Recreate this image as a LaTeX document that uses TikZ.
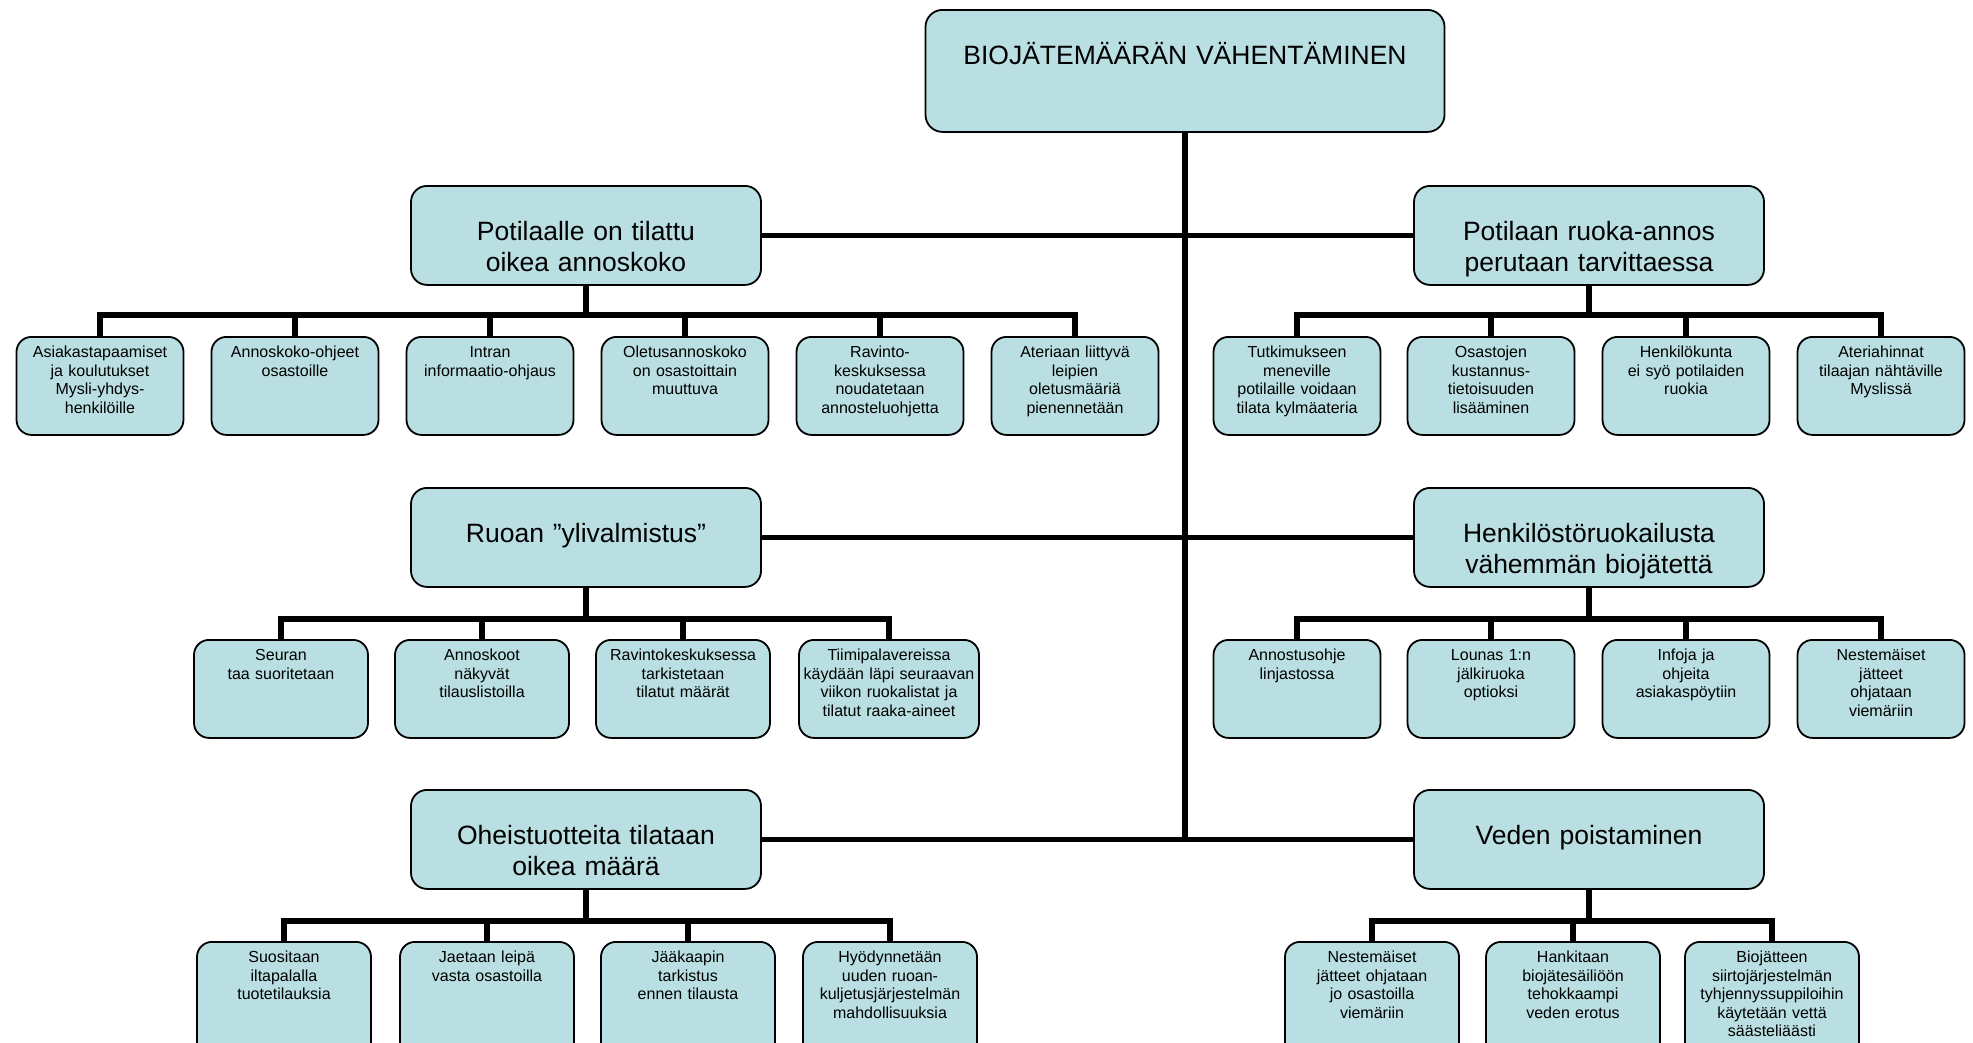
\documentclass[tikz,border=0pt]{standalone}
\usepackage{fontspec}
\setmainfont{Liberation Sans}
\usetikzlibrary{positioning}
\definecolor{boxfill}{RGB}{185,223,226}

\begin{document}
\begin{tikzpicture}[x=1pt, y=-1pt,
    goalbox/.style={rectangle, rounded corners=17pt, draw, line width=1.8pt, fill=boxfill, anchor=north, align=center, text width=499pt, inner xsep=10pt, inner ysep=10pt, text height=45pt, text depth=57pt, font=\fontsize{26.5}{30.5}\selectfont},
    mainbox/.style={rectangle, rounded corners=16pt, draw, line width=1.8pt, fill=boxfill, anchor=north, align=center, text width=330pt, inner xsep=10pt, inner ysep=10pt, text height=45pt, text depth=34pt, font=\fontsize{26.5}{30.5}\selectfont},
    kid/.style={rectangle, rounded corners=15pt, draw, line width=1.8pt, fill=boxfill, anchor=north, align=center, text width=#1, inner xsep=4pt, inner ysep=7pt, text height=14pt, text depth=70pt, font=\fontsize{16}{18.4}\selectfont},
    kid/.default=159pt,
    lastrow/.style={text depth=88pt},
    conn/.style={line width=5.8pt}
]
\useasboundingbox (0,0) rectangle (1973,1042);
\clip (0,0) rectangle (1973,1042);

\node[goalbox] (goal) at (1185,9) {BIOJÄTEMÄÄRÄN VÄHENTÄMINEN};

% main branches
\node[mainbox] (order) at (586,185) {Potilaalle on tilattu\\oikea annoskoko};
\node[mainbox] (cancel) at (1589,185) {Potilaan ruoka-annos\\perutaan tarvittaessa};
\node[mainbox] (over) at (586,487) {Ruoan ”ylivalmistus”};
\node[mainbox] (staff) at (1589,487) {Henkilöstöruokailusta\\vähemmän biojätettä};
\node[mainbox] (extra) at (586,789) {Oheistuotteita tilataan\\oikea määrä};
\node[mainbox] (water) at (1589,789) {Veden poistaminen};

% first row
\node[kid] (o1) at (100,336) {Asiakastapaamiset\\ja koulutukset\\Mysli-yhdys-\\henkilöille};
\node[kid] (o2) at (295,336) {Annoskoko-ohjeet\\osastoille};
\node[kid] (o3) at (490,336) {Intran\\informaatio-ohjaus};
\node[kid] (o4) at (685,336) {Oletusannoskoko\\on osastoittain\\muuttuva};
\node[kid] (o5) at (880,336) {Ravinto-\\keskuksessa\\noudatetaan\\annosteluohjetta};
\node[kid] (o6) at (1075,336) {Ateriaan liittyvä\\leipien\\oletusmääriä\\pienennetään};
\node[kid] (c1) at (1297,336) {Tutkimukseen\\meneville\\potilaille voidaan\\tilata kylmäateria};
\node[kid] (c2) at (1491,336) {Osastojen\\kustannus-\\tietoisuuden\\lisääminen};
\node[kid] (c3) at (1686,336) {Henkilökunta\\ei syö potilaiden\\ruokia};
\node[kid] (c4) at (1881,336) {Ateriahinnat\\tilaajan nähtäville\\Myslissä};

% second row
\node[kid=166pt] (v1) at (281,639) {Seuran\\taa suoritetaan};
\node[kid=166pt] (v2) at (482,639) {Annoskoot\\näkyvät\\tilauslistoilla};
\node[kid=166pt] (v3) at (683,639) {Ravintokeskuksessa\\tarkistetaan\\tilatut määrät};
\node[kid=172pt] (v4) at (889,639) {Tiimipalavereissa\\käydään läpi seuraavan\\viikon ruokalistat ja\\tilatut raaka-aineet};
\node[kid] (s1) at (1297,639) {Annostusohje\\linjastossa};
\node[kid] (s2) at (1491,639) {Lounas 1:n\\jälkiruoka\\optioksi};
\node[kid] (s3) at (1686,639) {Infoja ja\\ohjeita\\asiakaspöytiin};
\node[kid] (s4) at (1881,639) {Nestemäiset\\jätteet\\ohjataan\\viemäriin};

% third row
\node[kid=166pt, lastrow] (e1) at (284,941) {Suositaan\\iltapalalla\\tuotetilauksia};
\node[kid=166pt, lastrow] (e2) at (487,941) {Jaetaan leipä\\vasta osastoilla};
\node[kid=166pt, lastrow] (e3) at (688,941) {Jääkaapin\\tarkistus\\ennen tilausta};
\node[kid=166pt, lastrow] (e4) at (890,941) {Hyödynnetään\\uuden ruoan-\\kuljetusjärjestelmän\\mahdollisuuksia};
\node[kid=166pt, lastrow] (w1) at (1372,941) {Nestemäiset\\jätteet ohjataan\\jo osastoilla\\viemäriin};
\node[kid=166pt, lastrow] (w2) at (1573,941) {Hankitaan\\biojätesäiliöön\\tehokkaampi\\veden erotus};
\node[kid=166pt, lastrow] (w3) at (1772,941) {Biojätteen\\siirtojärjestelmän\\tyhjennyssuppiloihin\\käytetään vettä\\säästeliäästi};

% trunk and branches
\draw[conn] (goal.south) -- (goal.south |- extra.east);
\draw[conn] (order.east) -- (cancel.west);
\draw[conn] (over.east) -- (staff.west);
\draw[conn] (extra.east) -- (water.west);

\foreach \k in {o1,o2,o3,o4,o5,o6}
    \draw[conn] (order.south) -- ++(0,29) -| (\k.north);
\foreach \k in {c1,c2,c3,c4}
    \draw[conn] (cancel.south) -- ++(0,29) -| (\k.north);
\foreach \k in {v1,v2,v3,v4}
    \draw[conn] (over.south) -- ++(0,31) -| (\k.north);
\foreach \k in {s1,s2,s3,s4}
    \draw[conn] (staff.south) -- ++(0,31) -| (\k.north);
\foreach \k in {e1,e2,e3,e4}
    \draw[conn] (extra.south) -- ++(0,31) -| (\k.north);
\foreach \k in {w1,w2,w3}
    \draw[conn] (water.south) -- ++(0,31) -| (\k.north);

\end{tikzpicture}
\end{document}
